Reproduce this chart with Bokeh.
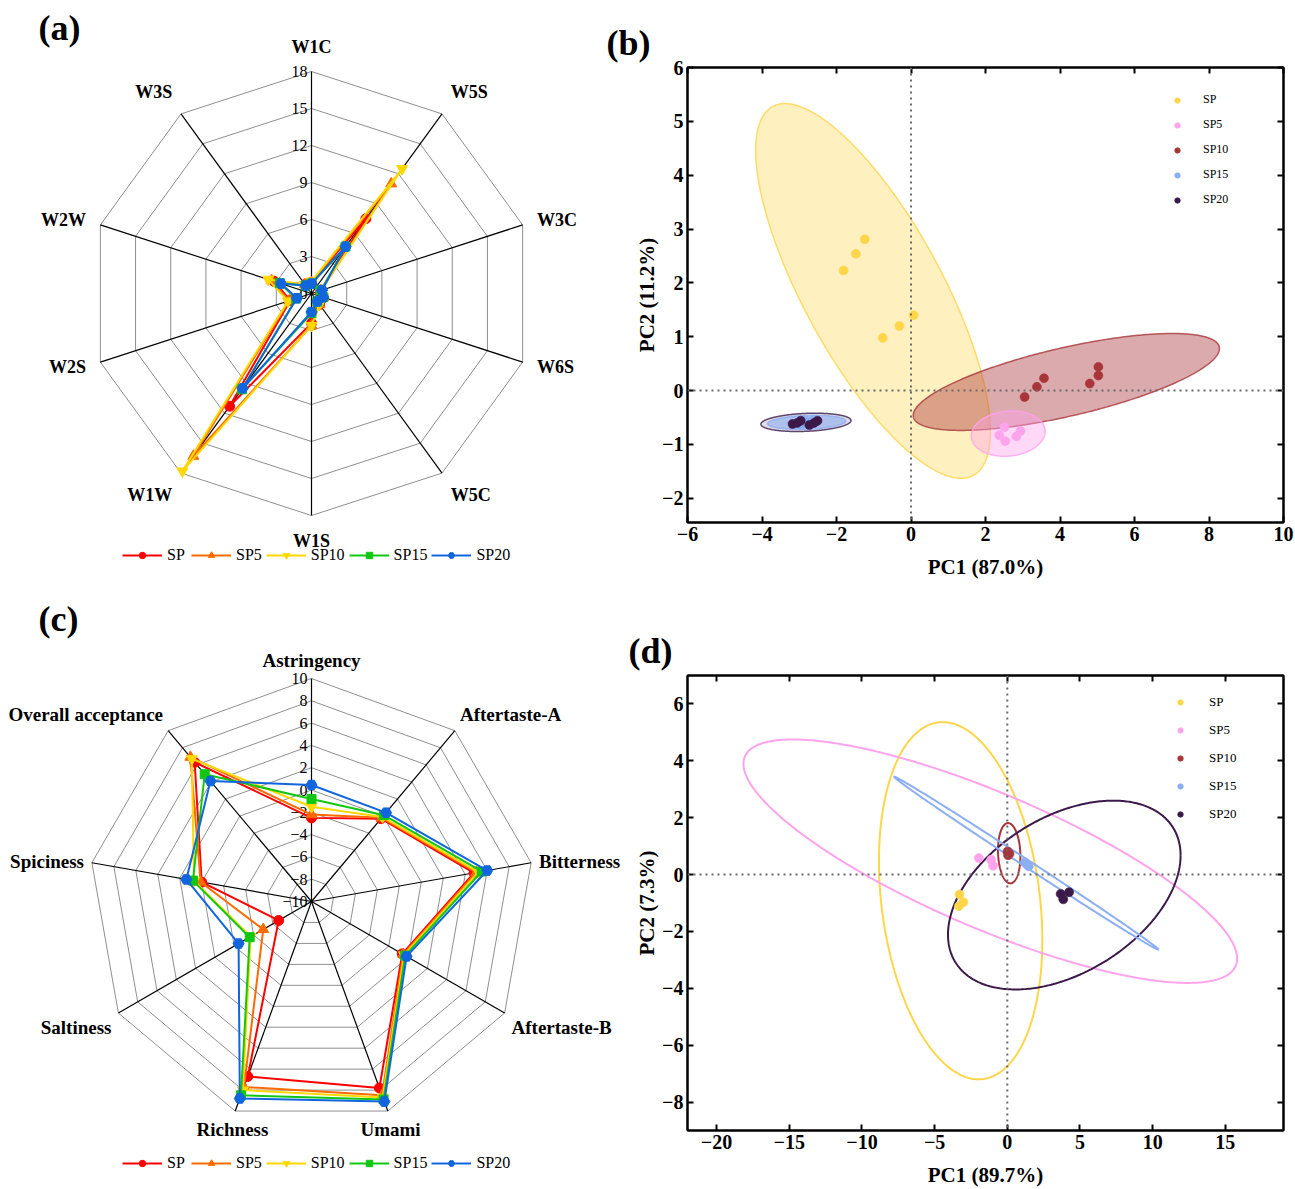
import numpy as np
from bokeh.plotting import figure
from bokeh.models import Range1d, Legend, LegendItem, Label, Span, LinearAxis, FixedTicker
from bokeh.layouts import column, row
from bokeh.embed import file_html
from bokeh.resources import INLINE
from bokeh.core.properties import value

# ---------------- data ----------------
series_names = ["SP", "SP5", "SP10", "SP15", "SP20"]

# (a) E-nose radar (clockwise from top)
enose_sensors = ["W1C", "W5S", "W3C", "W6S", "W5C", "W1S", "W1W", "W2S", "W2W", "W3S"]
enose_ticks = [0, 3, 6, 9, 12, 15, 18]
enose_SP = [0.9, 7.5, 0.8, 1.0, 1.1, 2.4, 11.3, 1.8, 3.2, 0.9]
enose_SP5 = [0.9, 11.0, 0.8, 1.0, 1.1, 2.6, 16.3, 1.9, 3.4, 0.9]
enose_SP10 = [1.0, 12.5, 0.8, 1.0, 1.1, 2.6, 17.8, 2.0, 3.7, 0.9]
enose_SP15 = [0.8, 4.7, 0.8, 1.0, 0.8, 1.6, 9.6, 1.3, 2.7, 0.8]
enose_SP20 = [0.8, 4.7, 0.9, 1.0, 0.8, 1.5, 9.5, 1.25, 2.6, 0.8]

# (c) sensory radar (clockwise from top)
taste_attributes = ["Astringency", "Aftertaste-A", "Bitterness", "Aftertaste-B", "Umami",
                    "Richness", "Saltiness", "Spiciness", "Overall acceptance"]
taste_ticks = [-10, -8, -6, -4, -2, 0, 2, 4, 6, 8, 10]
taste_SP = [-2.5, -0.3, 4.8, -0.6, 7.8, 6.7, -6.6, 0.0, 6.3]
taste_SP5 = [-2.2, -0.2, 5.0, -0.5, 8.5, 7.7, -5.0, 0.1, 6.9]
taste_SP10 = [-1.5, -0.1, 5.2, -0.4, 8.7, 8.0, -3.7, 0.7, 6.7]
taste_SP15 = [-0.8, 0.1, 5.5, -0.3, 8.9, 8.5, -3.6, 0.8, 4.9]
taste_SP20 = [0.45, 0.4, 6.0, -0.15, 9.1, 8.8, -2.45, 1.4, 4.1]

# (b) PCA of E-nose
b_pc1_ticks = [-6, -4, -2, 0, 2, 4, 6, 8, 10]
b_pc2_ticks = [-2, -1, 0, 1, 2, 3, 4, 5, 6]
b_SP_pc1 = [-1.24, -1.48, -1.81, 0.07, -0.31, -0.76]
b_SP_pc2 = [2.81, 2.54, 2.23, 1.40, 1.20, 0.98]
b_SP5_pc1 = [2.51, 2.94, 2.83, 2.53, 2.37]
b_SP5_pc2 = [-0.68, -0.75, -0.85, -0.94, -0.83]
b_SP10_pc1 = [3.05, 3.38, 3.57, 5.03, 5.03, 4.80]
b_SP10_pc2 = [-0.12, 0.07, 0.23, 0.44, 0.28, 0.13]
b_SP15_pc1 = [-3.05, -2.85, -2.70, -2.55, -2.95, -2.65]
b_SP15_pc2 = [-0.60, -0.55, -0.62, -0.58, -0.64, -0.56]
b_SP20_pc1 = [-3.18, -2.96, -2.73, -2.51, -2.60, -3.05]
b_SP20_pc2 = [-0.62, -0.56, -0.64, -0.56, -0.60, -0.60]
# confidence ellipses: centre, half extents, correlation (SP, SP5, SP10, SP15, SP20)
b_ell_cx = [-1.02, 2.61, 4.17, -2.80, -2.82]
b_ell_cy = [1.85, -0.80, 0.16, -0.59, -0.59]
b_ell_hx = [3.15, 0.99, 4.11, 1.05, 1.21]
b_ell_hy = [3.48, 0.42, 0.90, 0.13, 0.17]
b_ell_rho = [-0.75, 0.10, 0.69, 0.20, 0.20]

# (d) PCA of sensory
d_pc1_ticks = [-20, -15, -10, -5, 0, 5, 10, 15]
d_pc2_ticks = [-8, -6, -4, -2, 0, 2, 4, 6]
d_SP_pc1 = [-3.29, -3.02, -3.33]
d_SP_pc2 = [-0.70, -0.97, -1.11]
d_SP5_pc1 = [-1.96, -1.11, -0.98]
d_SP5_pc2 = [0.58, 0.52, 0.31]
d_SP10_pc1 = [0.02, 0.15, 0.05]
d_SP10_pc2 = [0.81, 0.73, 0.68]
d_SP15_pc1 = [1.21, 1.48, 1.35]
d_SP15_pc2 = [0.43, 0.29, 0.35]
d_SP20_pc1 = [3.67, 3.85, 4.25]
d_SP20_pc2 = [-0.68, -0.87, -0.62]
d_ell_cx = [-3.21, -1.17, 0.13, 1.31, 3.92]
d_ell_cy = [-0.92, 0.47, 0.75, 0.40, -0.72]
d_ell_hx = [5.62, 16.98, 0.77, 9.09, 8.00]
d_ell_hy = [6.28, 4.28, 1.06, 3.04, 3.32]
d_ell_rho = [-0.22, -0.80, -0.10, -0.9988, 0.42]

# ---------------- style ----------------
FONT = "Liberation Serif"
radar_colors = ["#FF0000", "#FF6A00", "#FFD800", "#12C712", "#1166DD"]
radar_markers = ["circle", "triangle", "inverted_triangle", "square", "hex"]
radar_sizes = [10, 11, 11, 9, 11]
pca_colors = ["#FFD54A", "#FFA3EC", "#A8353A", "#8CAEF2", "#3B1A4A"]
ellipse_fill_alpha = [0.35, 0.42, 0.42, 0.6, 0.15]
ellipse_draw_order = [0, 2, 1, 4, 3]


def minus(t):
    return str(t).replace("-", "\u2212")


def radar_panel(width, height, cx, cy, R, names, ticks, series, label_off, label_size,
                legend_loc, letter, letter_x, letter_top):
    vmin, vmax = ticks[0], ticks[-1]
    p = figure(width=width, height=height,
               x_range=Range1d(-cx / R, (width - cx) / R),
               y_range=Range1d(-(height - cy) / R, cy / R),
               x_axis_type=None, y_axis_type=None, toolbar_location=None,
               output_backend="svg", min_border=0, outline_line_color=None, frame_align=False)
    p.grid.visible = False
    n = len(names)
    theta = 2 * np.pi * np.arange(n) / n
    sn, cs = np.sin(theta), np.cos(theta)
    for t in ticks[1:]:
        r = (t - vmin) / (vmax - vmin)
        p.line(np.append(r * sn, r * sn[0]), np.append(r * cs, r * cs[0]),
               line_color="#8f8f8f", line_width=1)
    p.segment(x0=np.zeros(n), y0=np.zeros(n), x1=sn, y1=cs, line_color="black", line_width=1.2)
    rt = (np.array(ticks, dtype=float) - vmin) / (vmax - vmin)
    p.text(x=np.zeros(len(ticks)), y=rt, text=[minus(t) for t in ticks], x_offset=-4,
           text_align="right", text_baseline="middle", text_font=value(FONT),
           text_font_size="16px", text_color="black")
    rr = 1 + label_off / R
    for name, s, c in zip(names, sn, cs):
        align = "center" if abs(s) < 0.4 else ("left" if s > 0 else "right")
        base = "bottom" if c > 0.35 else ("top" if c < -0.35 else "middle")
        p.text(x=[rr * s], y=[rr * c], text=[name], text_align=align, text_baseline=base,
               text_font=value(FONT), text_font_style="bold", text_font_size=label_size,
               text_color="black")
    items = []
    for name, vals, col, mk, sz in zip(series_names, series, radar_colors, radar_markers, radar_sizes):
        r = (np.array(vals, dtype=float) - vmin) / (vmax - vmin)
        xs, ys = r * sn, r * cs
        ln = p.line(np.append(xs, xs[0]), np.append(ys, ys[0]), line_color=col, line_width=2)
        sc = p.scatter(xs, ys, marker=mk, size=sz, fill_color=col, line_color=col)
        items.append(LegendItem(label=name, renderers=[ln, sc]))
    leg = Legend(items=items, orientation="horizontal", location=legend_loc,
                 glyph_width=40, glyph_height=16, label_height=16, label_standoff=5, spacing=4,
                 padding=0, margin=0, border_line_color=None, background_fill_alpha=0,
                 label_text_font=FONT, label_text_font_size="16px", label_text_color="black")
    p.add_layout(leg)
    p.add_layout(Label(x=letter_x, y=height - letter_top, x_units="screen", y_units="screen",
                       text=letter, text_font=FONT, text_font_style="bold", text_font_size="36px",
                       text_baseline="top", text_color="black"))
    return p


def style_axis(ax, ticks, show, label_standoff):
    ax.ticker = FixedTicker(ticks=ticks)
    ax.major_label_overrides = {t: minus(t) for t in ticks if t < 0}
    ax.axis_line_width = 2
    ax.axis_line_color = "black"
    ax.major_tick_in = 6
    ax.major_tick_out = 0
    ax.major_tick_line_width = 2
    ax.minor_tick_line_color = None
    ax.major_label_text_font = FONT
    ax.major_label_text_font_style = "bold"
    ax.major_label_text_color = "black"
    if show:
        ax.major_label_text_font_size = "20px"
        ax.major_label_standoff = 4
    else:
        ax.major_label_text_font_size = "1px"
        ax.major_label_text_alpha = 0
        ax.major_label_standoff = label_standoff
    ax.axis_label_text_font = FONT
    ax.axis_label_text_font_style = "bold"
    ax.axis_label_text_font_size = "21px"
    ax.axis_label_text_color = "black"
    ax.axis_label_standoff = label_standoff if show else 0


def pca_panel(width, height, xr, yr, borders, xticks, yticks, xlabel, ylabel, groups, ell,
              filled, leg_loc, leg_spacing, leg_standoff, leg_font, letter, letter_lift):
    left, right, top, bottom = borders
    p = figure(width=width, height=height, x_range=Range1d(*xr), y_range=Range1d(*yr),
               x_axis_type=None, y_axis_type=None, toolbar_location=None, output_backend="svg",
               min_border_left=left, min_border_right=right, min_border_top=top,
               min_border_bottom=bottom, outline_line_color="black", outline_line_width=2,
               frame_align=False)
    p.grid.visible = False
    p.title.text = letter
    p.title.text_font = FONT
    p.title.text_font_size = "36px"
    p.title.text_font_style = "bold"
    p.title.text_color = "black"
    p.title.align = "left"
    p.title.offset = 6 - left
    p.title.standoff = 10
    for loc, ticks, lab, show, st in [("below", xticks, xlabel, True, 11), ("left", yticks, ylabel, True, 0),
                                      ("above", xticks, None, False, letter_lift),
                                      ("right", yticks, None, False, 0)]:
        ax = LinearAxis()
        style_axis(ax, ticks, show, st)
        if lab:
            ax.axis_label = lab
        p.add_layout(ax, loc)
    p.add_layout(Span(location=0, dimension="height", line_color="#6a6a6a", line_width=2, line_dash="2 4"))
    p.add_layout(Span(location=0, dimension="width", line_color="#6a6a6a", line_width=2, line_dash="2 4"))
    t = np.linspace(0, 2 * np.pi, 400)
    for i in ellipse_draw_order:
        col = pca_colors[i]
        cx, cy, hx, hy, rho = (ell[0][i], ell[1][i], ell[2][i], ell[3][i], ell[4][i])
        ex = cx + hx * np.cos(t)
        ey = cy + hy * (rho * np.cos(t) + np.sqrt(1 - rho ** 2) * np.sin(t))
        if filled:
            p.patch(ex, ey, fill_color=col, fill_alpha=ellipse_fill_alpha[i],
                    line_color=col, line_alpha=0.8, line_width=1.5)
        else:
            p.line(ex, ey, line_color=col, line_width=2)
    items = []
    for name, (gx, gy), col in zip(series_names, groups, pca_colors):
        sc = p.scatter(gx, gy, marker="circle", size=9, fill_color=col, line_color=col, line_alpha=0.6)
        items.append(LegendItem(label=name, renderers=[sc]))
    leg = Legend(items=items, location=leg_loc, glyph_width=14, glyph_height=14, label_height=14,
                 label_standoff=leg_standoff, spacing=leg_spacing, padding=0, margin=0,
                 border_line_color=None, background_fill_alpha=0, label_text_font=FONT,
                 label_text_font_size=leg_font, label_text_color="black")
    p.add_layout(leg)
    return p


pa = radar_panel(600, 590, 311, 293, 222, enose_sensors, enose_ticks,
                 [enose_SP, enose_SP5, enose_SP10, enose_SP15, enose_SP20],
                 15, "18px", (122, 26), "(a)", 38, 7)
pc = radar_panel(622, 599, 311, 311, 223, taste_attributes, taste_ticks,
                 [taste_SP, taste_SP5, taste_SP10, taste_SP15, taste_SP20],
                 8, "19px", (122, 17), "(c)", 38, 8)
pb = pca_panel(695, 590, (-6, 10), (-2.45, 6), (87, 12, 67, 68), b_pc1_ticks, b_pc2_ticks,
               "PC1 (87.0%)", "PC2 (11.2%)",
               [(b_SP_pc1, b_SP_pc2), (b_SP5_pc1, b_SP5_pc2), (b_SP10_pc1, b_SP10_pc2),
                (b_SP15_pc1, b_SP15_pc2), (b_SP20_pc1, b_SP20_pc2)],
               (b_ell_cx, b_ell_cy, b_ell_hx, b_ell_hy, b_ell_rho), True,
               (483, 315), 10, 19, "12px", "(b)", 12)
pd_ = pca_panel(673, 599, (-22, 19), (-9, 7), (65, 12, 85, 57), d_pc1_ticks, d_pc2_ticks,
                "PC1 (89.7%)", "PC2 (7.3%)",
                [(d_SP_pc1, d_SP_pc2), (d_SP5_pc1, d_SP5_pc2), (d_SP10_pc1, d_SP10_pc2),
                 (d_SP15_pc1, d_SP15_pc2), (d_SP20_pc1, d_SP20_pc2)],
                (d_ell_cx, d_ell_cy, d_ell_hx, d_ell_hy, d_ell_rho), False,
                (486, 308), 12, 22, "13px", "(d)", 28)

layout = column(row(pa, pb), row(pc, pd_))
open("out.html", "w").write(file_html(layout, INLINE))
